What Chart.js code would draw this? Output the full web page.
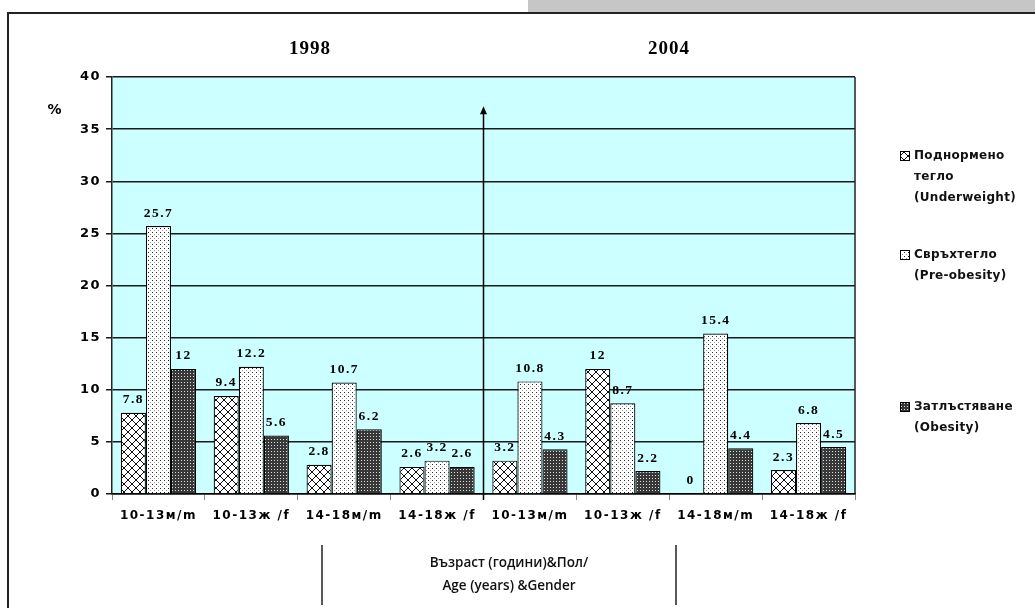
<!DOCTYPE html>
<html>
<head>
<meta charset="utf-8">
<script src="https://cdn.jsdelivr.net/npm/chart.js@4.4.1/dist/chart.umd.min.js"></script>
<style>
  body { margin: 0; background: #fff; }
  #wrap { width: 1035px; height: 608px; position: relative; }
</style>
</head>
<body>
<div id="wrap"><canvas id="BarChart"></canvas></div>
<script>
// age/gender groups, first four for 1998, last four for 2004
const categories = ['10-13м/m', '10-13ж /f', '14-18м/m', '14-18ж /f', '10-13м/m', '10-13ж /f', '14-18м/m', '14-18ж /f'];
const years = ['1998', '2004'];
const seriesNames = [
  ['Поднормено', 'тегло', '(Underweight)'],
  ['Свръхтегло', '(Pre-obesity)'],
  ['Затлъстяване', '(Obesity)']
];
const underweight = [7.8, 9.4, 2.8, 2.6, 3.2, 12, 0, 2.3];
const preObesity = [25.7, 12.2, 10.7, 3.2, 10.8, 8.7, 15.4, 6.8];
const obesity = [12, 5.6, 6.2, 2.6, 4.3, 2.2, 4.4, 4.5];
const yMax = 40;
const yStep = 5;
const xTitle = ['Възраст (години)&Пол/', 'Age (years) &Gender'];

// fill patterns for the three series
function makePattern(kind) {
  const c = document.createElement('canvas');
  const g = c.getContext('2d');
  if (kind === 'cross') {
    c.width = c.height = 8;
    g.fillStyle = '#fff';
    g.fillRect(0, 0, 8, 8);
    g.strokeStyle = '#111';
    g.lineWidth = 1;
    g.beginPath();
    g.moveTo(0, 0); g.lineTo(8, 8);
    g.moveTo(8, 0); g.lineTo(0, 8);
    g.stroke();
  } else if (kind === 'dots') {
    c.width = c.height = 4;
    g.fillStyle = '#fff';
    g.fillRect(0, 0, 4, 4);
    g.fillStyle = '#222';
    g.fillRect(0, 0, 1, 1);
    g.fillStyle = '#999';
    g.fillRect(2, 2, 1, 1);
  } else {
    c.width = c.height = 3;
    g.fillStyle = '#383838';
    g.fillRect(0, 0, 3, 3);
    g.fillStyle = '#ddd';
    g.fillRect(1, 1, 1, 1);
  }
  return g.createPattern(c, 'repeat');
}
const fills = [makePattern('cross'), makePattern('dots'), makePattern('dense')];

const backdrop = {
  id: 'backdrop',
  beforeDraw(chart) {
    const { ctx, chartArea: a, width, height } = chart;
    ctx.save();
    ctx.fillStyle = '#fff';
    ctx.fillRect(0, 0, width, height);
    ctx.fillStyle = '#c6c6c6';
    ctx.fillRect(528, 0, width - 528, 12);
    ctx.fillStyle = '#ccffff';
    ctx.fillRect(a.left, a.top, a.right - a.left, a.bottom - a.top);
    ctx.strokeStyle = '#222';
    ctx.lineWidth = 2;
    ctx.beginPath();
    ctx.moveTo(8, height);
    ctx.lineTo(8, 13);
    ctx.lineTo(width, 13);
    ctx.stroke();
    ctx.restore();
    ctx.letterSpacing = '1.5px'; // wide axis lettering
  },
  beforeDatasetsDraw(chart) {
    chart.ctx.letterSpacing = '0px';
  },
  afterDatasetsDraw(chart) {
    const ctx = chart.ctx;
    ctx.save();
    ctx.letterSpacing = '1.5px';
    ctx.font = 'bold 13.5px "Liberation Serif"';
    ctx.fillStyle = '#000';
    ctx.textAlign = 'center';
    ctx.textBaseline = 'middle';
    chart.data.datasets.forEach((ds, i) => {
      chart.getDatasetMeta(i).data.forEach((bar, j) => {
        ctx.fillText(String(ds.data[j]), bar.x, bar.y - 13);
      });
    });
    ctx.restore();
  },
  afterDraw(chart) {
    const { ctx, chartArea: a, scales } = chart;
    const x = scales.x, y = scales.y;
    ctx.save();
    // right edge of plot
    ctx.strokeStyle = '#222';
    ctx.lineWidth = 1.5;
    ctx.beginPath();
    ctx.moveTo(a.right, a.top);
    ctx.lineTo(a.right, a.bottom);
    ctx.stroke();

    // divider arrow between the two survey years
    const mid = (x.getPixelForValue(3) + x.getPixelForValue(4)) / 2;
    const tip = y.getPixelForValue(37.2);
    ctx.strokeStyle = '#000';
    ctx.lineWidth = 1.5;
    ctx.beginPath();
    ctx.moveTo(mid, a.bottom + 6);
    ctx.lineTo(mid, tip + 4);
    ctx.stroke();
    ctx.fillStyle = '#000';
    ctx.beginPath();
    ctx.moveTo(mid, tip);
    ctx.lineTo(mid - 3.5, tip + 8);
    ctx.lineTo(mid + 3.5, tip + 8);
    ctx.closePath();
    ctx.fill();

    // year headings
    ctx.letterSpacing = '1px';
    ctx.font = 'bold 19px "Liberation Serif"';
    ctx.textAlign = 'center';
    ctx.textBaseline = 'middle';
    ctx.fillText(years[0], 310, 49);
    ctx.fillText(years[1], 669, 49);

    ctx.font = 'bold 14px "DejaVu Sans"';
    ctx.fillText('%', 55, 110);

    // legend
    ctx.font = 'bold 12px "DejaVu Sans"';
    ctx.letterSpacing = '0.3px';
    ctx.textAlign = 'left';
    const rows = [156, 255, 407];
    seriesNames.forEach((lines, i) => {
      const top = rows[i];
      ctx.fillStyle = fills[i];
      ctx.fillRect(900, top - 5, 9, 9);
      ctx.strokeStyle = '#000';
      ctx.lineWidth = 1;
      ctx.strokeRect(900.5, top - 4.5, 9, 9);
      ctx.fillStyle = '#111';
      lines.forEach((t, k) => ctx.fillText(t, 914, top + k * 21));
    });

    // axis title with separators
    ctx.letterSpacing = '0px';
    ctx.font = '600 13.5px "Open Sans"';
    ctx.textAlign = 'center';
    ctx.fillStyle = '#111';
    ctx.fillText(xTitle[0], 509, 563);
    ctx.fillText(xTitle[1], 509, 586);
    ctx.strokeStyle = '#222';
    ctx.lineWidth = 1.5;
    ctx.beginPath();
    ctx.moveTo(322, 545); ctx.lineTo(322, 605);
    ctx.moveTo(676, 545); ctx.lineTo(676, 605);
    ctx.stroke();
    ctx.restore();
  }
};

const ctx = document.getElementById('BarChart').getContext('2d');
const chart = new Chart(ctx, {
  type: 'bar',
  data: {
    labels: categories,
    datasets: [
      { label: seriesNames[0].join(' '), data: underweight, backgroundColor: fills[0] },
      { label: seriesNames[1].join(' '), data: preObesity, backgroundColor: fills[1] },
      { label: seriesNames[2].join(' '), data: obesity, backgroundColor: fills[2] }
    ].map(d => Object.assign(d, {
      borderColor: '#000',
      borderWidth: 1.2,
      categoryPercentage: 0.81,
      barPercentage: 1
    }))
  },
  options: {
    responsive: true,
    maintainAspectRatio: false,
    animation: false,
    layout: { padding: { left: 0, top: 77, right: 180, bottom: 0 } },
    plugins: {
      legend: { display: false },
      tooltip: { enabled: false }
    },
    scales: {
      x: {
        afterFit: s => { s.height = 114; },
        grid: { drawOnChartArea: false, drawTicks: true, tickLength: 6, color: '#888', lineWidth: 1 },
        border: { color: '#000', width: 1.5 },
        ticks: {
          autoSkip: false,
          maxRotation: 0,
          padding: 9,
          color: '#000',
          font: { family: 'DejaVu Sans', size: 12, weight: 'bold' }
        }
      },
      y: {
        min: 0,
        max: yMax,
        afterFit: s => { s.width = 112; },
        grid: { color: '#1a1a1a', lineWidth: 1.5, tickLength: 6 },
        border: { color: '#222', width: 1.5 },
        ticks: {
          stepSize: yStep,
          padding: 5,
          color: '#000',
          font: { family: 'DejaVu Sans', size: 13, weight: 'bold' }
        }
      }
    }
  },
  plugins: [backdrop]
});
</script>
</body>
</html>
